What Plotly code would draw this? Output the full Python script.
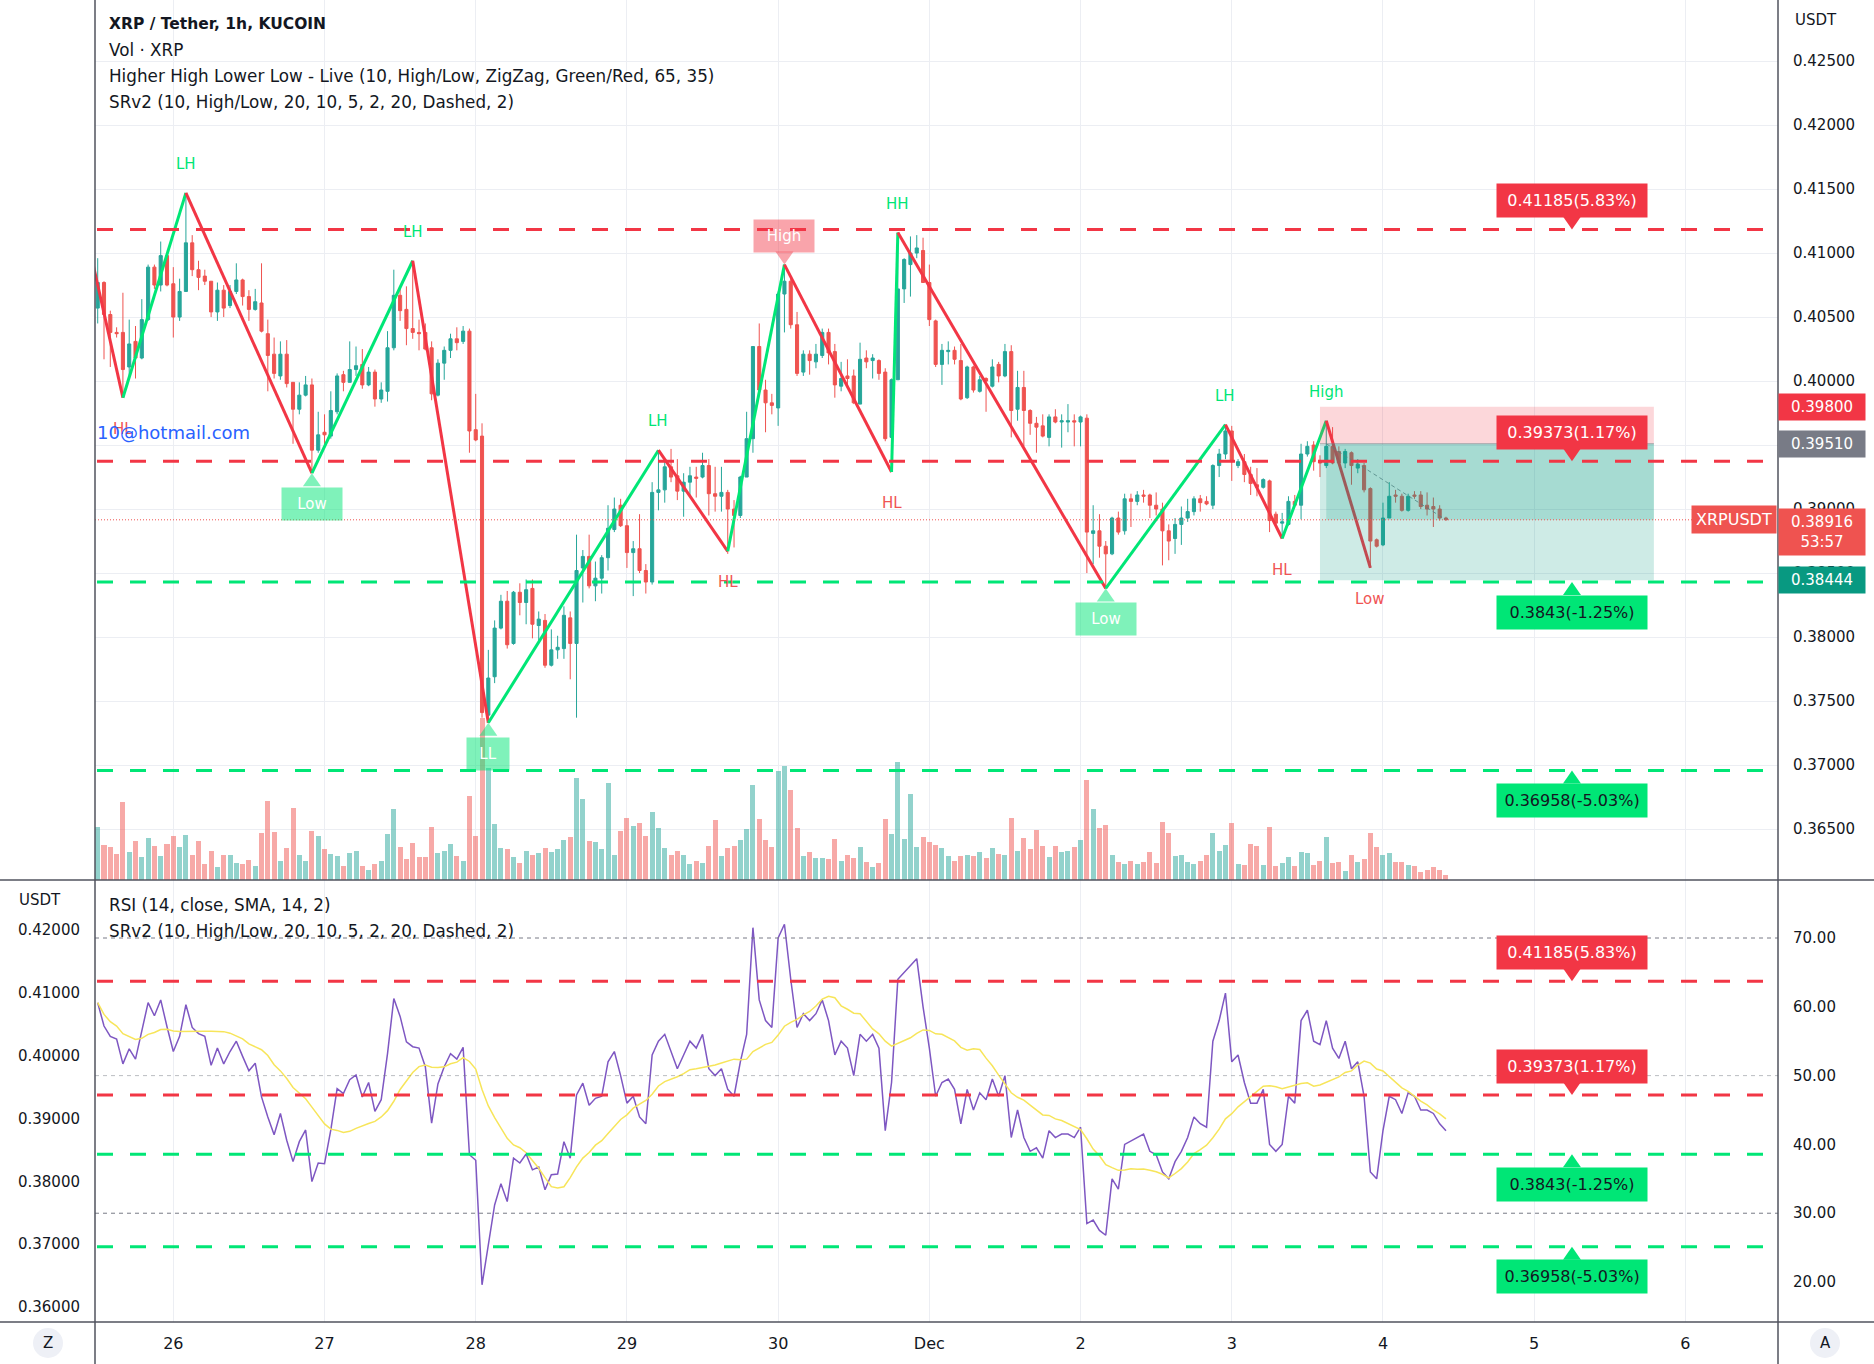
import pandas as pd
import plotly.graph_objects as go

# ---------------- DATA ----------------
# hourly candles, XRP/USDT (KUCOIN), first candle 2022-11-25 12:00
open_ = [
    0.4057, 0.4077, 0.4052, 0.4038, 0.4038, 0.4011, 0.4031, 0.4018, 0.4048, 0.4089,
    0.4075, 0.4098, 0.4076, 0.4050, 0.4070, 0.4108, 0.4087, 0.4082, 0.4078, 0.4054,
    0.4071, 0.4059, 0.4070, 0.4079, 0.4066, 0.4056, 0.4061, 0.4037, 0.4021, 0.4004,
    0.4021, 0.3999, 0.3978, 0.3989, 0.3997, 0.3946, 0.3960, 0.3957, 0.3976, 0.4005,
    0.3999, 0.4009, 0.4013, 0.3997, 0.4007, 0.3986, 0.3992, 0.4026, 0.4067, 0.4056,
    0.4041, 0.4038, 0.4038, 0.4026, 0.3989, 0.4014, 0.4024, 0.4033, 0.4031, 0.4039,
    0.3962, 0.3957, 0.3739, 0.3769, 0.3807, 0.3828, 0.3795, 0.3835, 0.3827, 0.3838,
    0.3809, 0.3813, 0.3778, 0.3790, 0.3791, 0.3815, 0.3795, 0.3854, 0.3863, 0.3840,
    0.3846, 0.3862, 0.3884, 0.3903, 0.3887, 0.3866, 0.3869, 0.3852, 0.3843, 0.3913,
    0.3915, 0.3933, 0.3926, 0.3914, 0.3921, 0.3925, 0.3925, 0.3934, 0.3912, 0.3910,
    0.3913, 0.3900, 0.3895, 0.3925, 0.3955, 0.4027, 0.3993, 0.3983, 0.3979, 0.4068,
    0.4078, 0.4044, 0.4007, 0.4021, 0.4015, 0.4020, 0.4038, 0.4023, 0.3996, 0.4004,
    0.4004, 0.3982, 0.4018, 0.4016, 0.4016, 0.4007, 0.3956, 0.4001, 0.4072, 0.4091,
    0.4100, 0.4102, 0.4077, 0.4047, 0.4013, 0.4023, 0.4024, 0.4016, 0.3987, 0.4011,
    0.3992, 0.4002, 0.3996, 0.4013, 0.4004, 0.4023, 0.3978, 0.3995, 0.3977, 0.3967,
    0.3965, 0.3956, 0.3972, 0.3968, 0.3968, 0.3969, 0.3968, 0.3971, 0.3881, 0.3883,
    0.3871, 0.3865, 0.3893, 0.3883, 0.3908, 0.3906, 0.3911, 0.3911, 0.3903, 0.3900,
    0.3883, 0.3877, 0.3888, 0.3893, 0.3898, 0.3908, 0.3906, 0.3903, 0.3934, 0.3943,
    0.3961, 0.3934, 0.3937, 0.3927, 0.3919, 0.3917, 0.3922, 0.3896, 0.3889, 0.3888,
    0.3906, 0.3903, 0.3943, 0.3950, 0.3937, 0.3934, 0.3949, 0.3945, 0.3936, 0.3944,
    0.3932, 0.3934, 0.3916, 0.3876, 0.3872, 0.3893, 0.3911, 0.3910, 0.3899, 0.3911,
    0.3911, 0.3903, 0.3902, 0.3900, 0.3893,
]
high = [
    0.4096, 0.4078, 0.4055, 0.4042, 0.4069, 0.4048, 0.4043, 0.4064, 0.4091, 0.4091,
    0.4109, 0.4100, 0.4089, 0.4080, 0.4147, 0.4114, 0.4094, 0.4087, 0.4078, 0.4077,
    0.4075, 0.4075, 0.4092, 0.4080, 0.4071, 0.4072, 0.4092, 0.4048, 0.4034, 0.4031,
    0.4032, 0.3999, 0.3999, 0.4004, 0.4002, 0.3976, 0.3974, 0.3992, 0.4006, 0.4008,
    0.4031, 0.4027, 0.4025, 0.4011, 0.4009, 0.3999, 0.4039, 0.4087, 0.4072, 0.4074,
    0.4094, 0.4048, 0.4045, 0.4031, 0.4017, 0.4027, 0.4037, 0.4042, 0.4043, 0.4041,
    0.3990, 0.3967, 0.3790, 0.3813, 0.3833, 0.3836, 0.3836, 0.3842, 0.3845, 0.3845,
    0.3820, 0.3818, 0.3806, 0.3801, 0.3824, 0.3820, 0.3880, 0.3868, 0.3880, 0.3859,
    0.3864, 0.3903, 0.3909, 0.3908, 0.3892, 0.3875, 0.3896, 0.3857, 0.3921, 0.3946,
    0.3939, 0.3947, 0.3939, 0.3928, 0.3933, 0.3933, 0.3944, 0.3939, 0.3933, 0.3933,
    0.3915, 0.3907, 0.3926, 0.3976, 0.4027, 0.4045, 0.4001, 0.3990, 0.4070, 0.4091,
    0.4080, 0.4054, 0.4024, 0.4024, 0.4029, 0.4041, 0.4041, 0.4029, 0.4015, 0.4017,
    0.4009, 0.4030, 0.4024, 0.4021, 0.4017, 0.4010, 0.4002, 0.4116, 0.4096, 0.4113,
    0.4114, 0.4112, 0.4091, 0.4048, 0.4029, 0.4031, 0.4027, 0.4029, 0.4012, 0.4012,
    0.4004, 0.4003, 0.4017, 0.4015, 0.4029, 0.4028, 0.4008, 0.4008, 0.3978, 0.3972,
    0.3974, 0.3974, 0.3978, 0.3974, 0.3982, 0.3974, 0.3973, 0.3974, 0.3903, 0.3896,
    0.3875, 0.3894, 0.3898, 0.3912, 0.3912, 0.3914, 0.3915, 0.3912, 0.3913, 0.3905,
    0.3888, 0.3893, 0.3902, 0.3908, 0.3910, 0.3911, 0.3910, 0.3935, 0.3947, 0.3966,
    0.3965, 0.3939, 0.3943, 0.3933, 0.3932, 0.3924, 0.3923, 0.3898, 0.3897, 0.3910,
    0.3911, 0.3951, 0.3953, 0.3953, 0.3942, 0.3969, 0.3964, 0.3949, 0.3947, 0.3945,
    0.3939, 0.3936, 0.3917, 0.3877, 0.3905, 0.3921, 0.3915, 0.3912, 0.3912, 0.3914,
    0.3914, 0.3913, 0.3909, 0.3903, 0.3894,
]
low = [
    0.4045, 0.4017, 0.4011, 0.4034, 0.3987, 0.4004, 0.4002, 0.4017, 0.4047, 0.4072,
    0.4070, 0.4074, 0.4034, 0.4047, 0.4070, 0.4082, 0.4071, 0.4075, 0.4050, 0.4047,
    0.4050, 0.4057, 0.4068, 0.4059, 0.4047, 0.4055, 0.4038, 0.3992, 0.4002, 0.4001,
    0.3995, 0.3951, 0.3974, 0.3988, 0.3928, 0.3944, 0.3949, 0.3955, 0.3974, 0.3992,
    0.3999, 0.4004, 0.3994, 0.3996, 0.3980, 0.3983, 0.3984, 0.4024, 0.4047, 0.4028,
    0.4033, 0.4024, 0.4024, 0.3985, 0.3988, 0.4001, 0.4018, 0.4024, 0.4029, 0.3944,
    0.3953, 0.3737, 0.3733, 0.3764, 0.3806, 0.3791, 0.3794, 0.3817, 0.3810, 0.3799,
    0.3797, 0.3776, 0.3777, 0.3783, 0.3783, 0.3767, 0.3737, 0.3827, 0.3838, 0.3828,
    0.3834, 0.3852, 0.3882, 0.3886, 0.3854, 0.3832, 0.3850, 0.3834, 0.3841, 0.3899,
    0.3905, 0.3921, 0.3907, 0.3894, 0.3911, 0.3909, 0.3924, 0.3895, 0.3898, 0.3898,
    0.3865, 0.3870, 0.3893, 0.3925, 0.3944, 0.3992, 0.3960, 0.3974, 0.3965, 0.4038,
    0.4041, 0.4004, 0.4004, 0.4005, 0.4010, 0.4018, 0.4013, 0.3987, 0.3992, 0.3995,
    0.3982, 0.3982, 0.4010, 0.4002, 0.4001, 0.3953, 0.3929, 0.4001, 0.4061, 0.4066,
    0.4096, 0.4077, 0.4043, 0.4011, 0.3997, 0.4013, 0.4013, 0.3985, 0.3986, 0.3991,
    0.3991, 0.3976, 0.3995, 0.3999, 0.4003, 0.3956, 0.3969, 0.3949, 0.3958, 0.3944,
    0.3956, 0.3949, 0.3967, 0.3948, 0.3960, 0.3949, 0.3949, 0.3850, 0.3857, 0.3862,
    0.3838, 0.3864, 0.3880, 0.3880, 0.3886, 0.3903, 0.3905, 0.3893, 0.3895, 0.3856,
    0.3860, 0.3865, 0.3872, 0.3890, 0.3895, 0.3898, 0.3903, 0.3900, 0.3925, 0.3939,
    0.3922, 0.3932, 0.3921, 0.3911, 0.3910, 0.3916, 0.3882, 0.3886, 0.3877, 0.3887,
    0.3902, 0.3892, 0.3941, 0.3930, 0.3925, 0.3932, 0.3935, 0.3935, 0.3932, 0.3919,
    0.3928, 0.3913, 0.3854, 0.3870, 0.3871, 0.3893, 0.3905, 0.3898, 0.3898, 0.3908,
    0.3900, 0.3895, 0.3886, 0.3891, 0.3891,
]
close = [
    0.4077, 0.4052, 0.4038, 0.4037, 0.4009, 0.4029, 0.4018, 0.4048, 0.4089, 0.4075,
    0.4098, 0.4075, 0.4050, 0.4070, 0.4108, 0.4087, 0.4081, 0.4078, 0.4054, 0.4071,
    0.4057, 0.4070, 0.4079, 0.4066, 0.4056, 0.4062, 0.4039, 0.4020, 0.4006, 0.4021,
    0.3998, 0.3978, 0.3989, 0.3997, 0.3946, 0.3958, 0.3958, 0.3977, 0.4004, 0.3999,
    0.4009, 0.4012, 0.3997, 0.4007, 0.3986, 0.3993, 0.4026, 0.4067, 0.4055, 0.4041,
    0.4038, 0.4037, 0.4025, 0.3990, 0.4014, 0.4024, 0.4033, 0.4030, 0.4039, 0.3961,
    0.3954, 0.3741, 0.3768, 0.3807, 0.3828, 0.3794, 0.3835, 0.3827, 0.3837, 0.3810,
    0.3814, 0.3778, 0.3790, 0.3792, 0.3817, 0.3795, 0.3852, 0.3863, 0.3840, 0.3846,
    0.3862, 0.3885, 0.3900, 0.3887, 0.3866, 0.3869, 0.3852, 0.3843, 0.3913, 0.3915,
    0.3933, 0.3925, 0.3914, 0.3921, 0.3926, 0.3924, 0.3934, 0.3912, 0.3910, 0.3913,
    0.3900, 0.3895, 0.3925, 0.3955, 0.4027, 0.3993, 0.3983, 0.3981, 0.4068, 0.4078,
    0.4044, 0.4006, 0.4021, 0.4016, 0.4021, 0.4038, 0.4022, 0.3997, 0.4002, 0.4002,
    0.3983, 0.4017, 0.4015, 0.4018, 0.4006, 0.3955, 0.4001, 0.4072, 0.4095, 0.4100,
    0.4104, 0.4077, 0.4048, 0.4013, 0.4024, 0.4024, 0.4017, 0.3986, 0.4011, 0.3993,
    0.4001, 0.4000, 0.4011, 0.4004, 0.4023, 0.3977, 0.3995, 0.3977, 0.3967, 0.3964,
    0.3957, 0.3972, 0.3968, 0.3969, 0.3969, 0.3968, 0.3972, 0.3882, 0.3883, 0.3871,
    0.3865, 0.3893, 0.3882, 0.3908, 0.3906, 0.3911, 0.3910, 0.3903, 0.3900, 0.3883,
    0.3875, 0.3888, 0.3893, 0.3898, 0.3908, 0.3905, 0.3904, 0.3934, 0.3943, 0.3961,
    0.3937, 0.3937, 0.3927, 0.3920, 0.3917, 0.3923, 0.3891, 0.3889, 0.3890, 0.3906,
    0.3903, 0.3943, 0.3949, 0.3937, 0.3936, 0.3949, 0.3936, 0.3936, 0.3945, 0.3934,
    0.3935, 0.3915, 0.3875, 0.3871, 0.3893, 0.3910, 0.3910, 0.3899, 0.3910, 0.3910,
    0.3902, 0.3900, 0.3900, 0.3893, 0.38916,
]
volume = [
    118, 78, 73, 58, 173, 63, 86, 50, 93, 75,
    53, 80, 98, 73, 100, 56, 86, 36, 65, 28,
    56, 56, 38, 36, 44, 30, 103, 175, 106, 43,
    71, 160, 56, 43, 108, 98, 68, 58, 53, 31,
    60, 64, 30, 23, 36, 43, 102, 158, 73, 46,
    81, 50, 50, 118, 60, 64, 80, 53, 43, 185,
    98, 358, 248, 123, 71, 68, 51, 38, 65, 56,
    60, 71, 63, 68, 88, 95, 225, 178, 86, 83,
    68, 215, 55, 108, 138, 120, 125, 98, 151, 115,
    71, 55, 65, 55, 35, 41, 38, 75, 132, 53,
    71, 75, 88, 113, 210, 135, 88, 73, 240, 253,
    198, 116, 53, 63, 48, 48, 46, 91, 43, 56,
    48, 73, 40, 28, 38, 135, 102, 260, 91, 190,
    73, 96, 83, 78, 71, 53, 43, 53, 55, 53,
    62, 48, 71, 58, 56, 138, 64, 93, 68, 111,
    76, 50, 75, 63, 65, 73, 88, 220, 156, 116,
    121, 55, 40, 35, 41, 35, 40, 63, 38, 128,
    103, 53, 55, 40, 35, 43, 56, 103, 65, 78,
    125, 35, 33, 80, 76, 33, 118, 30, 38, 51,
    31, 62, 60, 33, 43, 96, 38, 40, 21, 56,
    40, 46, 103, 73, 55, 60, 40, 40, 33, 30,
    18, 22, 28, 23, 11,
]
rsi = [
    60.6, 57.2, 55.7, 55.3, 51.7, 53.9, 52.4, 56.6, 60.6, 58.7,
    61.0, 57.1, 53.5, 55.7, 60.3, 57.0, 56.1, 55.7, 51.5, 54.0,
    51.7, 53.5, 55.0, 52.8, 50.7, 51.8, 46.9, 44.0, 41.4, 44.5,
    40.6, 37.5, 40.4, 42.1, 34.6, 37.3, 37.2, 42.1, 48.1, 47.4,
    49.4, 50.1, 46.9, 49.0, 44.8, 46.5, 53.2, 61.2, 58.6, 54.9,
    54.2, 54.0, 51.3, 43.1, 48.8, 51.3, 53.2, 52.4, 54.1, 38.5,
    37.7, 19.6, 25.1, 31.2, 34.3, 31.7, 38.0, 37.3, 38.6, 36.3,
    36.7, 33.4, 35.6, 35.7, 40.4, 38.0, 47.2, 48.9, 45.7, 46.7,
    47.0, 52.0, 53.5, 50.0, 46.0, 47.0, 44.0, 43.0, 53.0, 55.0,
    56.0, 53.5, 51.0, 53.0, 55.0, 54.0, 56.0, 51.0, 50.0, 51.0,
    48.0, 47.0, 52.0, 56.0, 71.5, 61.0, 58.0, 57.0, 70.0, 72.0,
    64.0, 57.0, 59.0, 58.0, 59.0, 61.0, 58.0, 53.0, 55.0, 54.0,
    50.0, 56.0, 55.0, 56.0, 54.0, 42.0, 49.0, 64.0, 65.0, 66.0,
    67.0, 60.0, 54.0, 47.0, 49.0, 49.5, 48.0, 43.0, 48.0, 45.0,
    47.5, 46.5, 49.5, 47.0, 50.0, 41.0, 45.0, 41.0, 39.0, 39.5,
    38.0, 42.0, 41.0, 41.5, 41.5, 41.0, 42.5, 28.5, 29.0, 27.5,
    26.8, 35.0, 33.5, 40.0, 40.5, 41.0, 41.5, 39.0, 38.5, 36.0,
    35.0, 37.5, 39.0, 41.0, 44.0, 43.0, 42.5, 55.0, 58.0, 62.0,
    52.0, 53.0, 49.0, 46.0, 46.0, 48.0, 40.0, 39.0, 40.0, 47.0,
    46.0, 58.0, 59.5, 55.0, 54.5, 58.0, 54.0, 52.5, 55.0, 51.0,
    52.0, 47.0, 36.0, 35.0, 42.0, 47.0, 46.5, 44.5, 47.5, 47.0,
    45.0, 45.0, 44.5, 43.0, 42.0,
]

# zigzag pivots (hours from 2022-11-26 00:00)
pivot_idx = [-13, -8, 2, 22, 38, 50, 77, 88, 97, 114, 115, 148, 167, 176, 183, 190]
pivot_price = [0.4097, 0.3987, 0.4147, 0.3928, 0.4094, 0.3733, 0.3946, 0.3867,
               0.4091, 0.3929, 0.4116, 0.3838, 0.3966, 0.3877, 0.3969, 0.3854]
pivot_label = ["", "HL", "LH", "Low", "LH", "LL", "LH", "HL",
               "High", "HL", "HH", "Low", "LH", "HL", "High", "Low"]
pivot_style = ["", "text", "text", "box", "text", "box", "text", "text",
               "box", "text", "text", "box", "text", "text", "text", "text"]

# support / resistance levels
sr_levels = [0.41185, 0.39373, 0.3843, 0.36958]
sr_labels = ["0.41185(5.83%)", "0.39373(1.17%)", "0.3843(-1.25%)", "0.36958(-5.03%)"]

# position tool
pos_stop, pos_entry, pos_target, last_price = 0.39800, 0.39510, 0.38444, 0.38916
pos_start_h, pos_end_h = 182, 235

price_ticks = [0.365, 0.370, 0.375, 0.380, 0.385, 0.390, 0.395, 0.400,
               0.405, 0.410, 0.415, 0.420, 0.425]
rsi_price_ticks = [0.36, 0.37, 0.38, 0.39, 0.40, 0.41, 0.42]
rsi_ticks = [20, 30, 40, 50, 60, 70]
tick_labels = ["26", "27", "28", "29", "30", "Dec", "2", "3", "4", "5", "6"]
tick_dates = pd.date_range("2022-11-26", periods=len(tick_labels), freq="D")

# ---------------- FIGURE ----------------
W, H = 1874, 1364
def px(x): return x / W
def py(y): return 1 - y / H

T0 = pd.Timestamp("2022-11-26")
def t_at(h): return T0 + pd.Timedelta(hours=h)

times = pd.date_range("2022-11-25 12:00", periods=len(close), freq="h")
rsi_sma = pd.Series(rsi).rolling(14, min_periods=1).mean()

UP, DOWN = "#26a69a", "#ef5350"
GREEN, RED = "#00e676", "#f23645"
TXT = "#131722"
GRID = "#eceef3"
FONT = "DejaVu Sans"
BORDER = "#50535e"

fig = go.Figure()

vol_colors = ["rgba(38,166,154,0.5)" if c >= o else "rgba(239,83,80,0.5)"
              for o, c in zip(open_, close)]
fig.add_trace(go.Bar(x=times, y=volume, marker=dict(color=vol_colors, line=dict(width=0)),
                     width=0.8 * 3600 * 1000, xaxis="x", yaxis="y", hoverinfo="skip"))
fig.add_trace(go.Candlestick(
    x=times, open=open_, high=high, low=low, close=close, xaxis="x", yaxis="y2",
    increasing=dict(line=dict(color=UP, width=1), fillcolor=UP),
    decreasing=dict(line=dict(color=DOWN, width=1), fillcolor=DOWN),
    whiskerwidth=0, hoverinfo="skip"))

for i in range(len(pivot_idx) - 1):
    p0, p1 = pivot_price[i], pivot_price[i + 1]
    fig.add_trace(go.Scatter(
        x=[t_at(pivot_idx[i]), t_at(pivot_idx[i + 1])], y=[p0, p1], mode="lines",
        line=dict(color=GREEN if p1 > p0 else RED, width=3),
        xaxis="x", yaxis="y2", hoverinfo="skip"))

fig.add_trace(go.Scatter(x=[t_at(pivot_idx[-2]), times[-1]], y=[pos_entry, last_price],
                         mode="lines", line=dict(color="rgba(120,123,134,0.8)", width=1, dash="4px,3px"),
                         xaxis="x", yaxis="y2", hoverinfo="skip"))

fig.add_trace(go.Scatter(x=times, y=rsi, mode="lines", line=dict(color="#7e57c2", width=1.5),
                         xaxis="x2", yaxis="y3", hoverinfo="skip"))
fig.add_trace(go.Scatter(x=times, y=rsi_sma, mode="lines", line=dict(color="#f7e55a", width=1.5),
                         xaxis="x2", yaxis="y3", hoverinfo="skip"))

shapes = []
annotations = []

# RSI band and levels
shapes.append(dict(type="rect", xref="paper", yref="y3", x0=px(95), x1=px(1778), y0=30, y1=70,
                   fillcolor="rgba(126,87,194,0.1)", line=dict(width=0), layer="below"))
for lv, col in [(70, "#787b86"), (50, "rgba(120,123,134,0.5)"), (30, "#787b86")]:
    shapes.append(dict(type="line", xref="paper", yref="y3", x0=px(95), x1=px(1778), y0=lv, y1=lv,
                       line=dict(color=col, width=1, dash="4px,4px")))

# position tool rectangles
shapes.append(dict(type="rect", xref="x", yref="y2", x0=t_at(pos_start_h), x1=t_at(pos_end_h),
                   y0=pos_entry, y1=pos_stop, fillcolor="rgba(242,54,69,0.2)", line=dict(width=0), layer="above"))
shapes.append(dict(type="rect", xref="x", yref="y2", x0=t_at(pos_start_h), x1=t_at(pos_end_h),
                   y0=pos_target, y1=pos_entry, fillcolor="rgba(8,153,129,0.2)", line=dict(width=0), layer="above"))
shapes.append(dict(type="rect", xref="x", yref="y2", x0=t_at(pos_start_h + 1), x1=t_at(pos_end_h),
                   y0=last_price, y1=pos_entry, fillcolor="rgba(8,153,129,0.2)", line=dict(width=0), layer="above"))
shapes.append(dict(type="line", xref="x", yref="y2", x0=t_at(pos_start_h), x1=t_at(pos_end_h),
                   y0=pos_entry, y1=pos_entry, line=dict(color="rgba(120,123,134,0.6)", width=1), layer="above"))

# current price dotted line
shapes.append(dict(type="line", xref="paper", yref="y2", x0=px(95), x1=px(1778), y0=last_price, y1=last_price,
                   line=dict(color=DOWN, width=1, dash="1px,2px")))

# S/R lines and labels in both panes
label_t = t_at(222)
for lv, lab in zip(sr_levels, sr_labels):
    res = lv > pos_entry - 0.002
    col = RED if res else GREEN
    fcol = "white" if res else TXT
    for yr in ("y2", "y4"):
        shapes.append(dict(type="line", xref="paper", yref=yr, x0=px(97), x1=px(1765), y0=lv, y1=lv,
                           line=dict(color=col, width=3, dash="16px,17px"), layer="above"))
        shapes.append(dict(type="path", xref="x", yref=yr, xsizemode="pixel", ysizemode="pixel",
                           xanchor=label_t, yanchor=lv,
                           path=("M 0 0 L -9 13 L 9 13 Z" if res else "M 0 0 L -9 -13 L 9 -13 Z"),
                           fillcolor=col, line=dict(width=0), layer="above"))
        annotations.append(dict(x=label_t, y=lv, xref="x", yref=yr, text=lab, showarrow=False,
                                font=dict(color=fcol, size=16, family=FONT), bgcolor=col,
                                width=142, height=25, borderpad=4, yshift=(29 if res else -30)))

# pivot labels
for i in range(1, len(pivot_idx)):
    lab = pivot_label[i]
    t = t_at(pivot_idx[i])
    p = pivot_price[i]
    peak = p > pivot_price[i - 1]
    if pivot_style[i] == "text":
        annotations.append(dict(x=t, y=p, xref="x", yref="y2", text=lab, showarrow=False,
                                font=dict(color=(GREEN if peak else "#f05454"), size=15, family=FONT),
                                yshift=(29 if peak else -31)))
    else:
        bcol = "rgba(242,54,69,0.45)" if peak else "rgba(0,230,118,0.5)"
        shapes.append(dict(type="path", xref="x", yref="y2", xsizemode="pixel", ysizemode="pixel",
                           xanchor=t, yanchor=p,
                           path=("M 0 0 L -9 13 L 9 13 Z" if peak else "M 0 0 L -9 -13 L 9 -13 Z"),
                           fillcolor=bcol, line=dict(width=0), layer="above"))
        annotations.append(dict(x=t, y=p, xref="x", yref="y2", text=lab, showarrow=False,
                                font=dict(color="white", size=15, family=FONT), bgcolor=bcol,
                                width=(34 if len(lab) == 2 else 52), height=24, borderpad=4,
                                yshift=(29 if peak else -31)))

annotations.append(dict(x=px(95), y=py(433), xref="paper", yref="paper", xanchor="left", yanchor="middle",
                        text="10@hotmail.com", showarrow=False,
                        font=dict(color="#2962ff", size=18, family="DejaVu Sans")))

# legend texts
legend_lines = [("XRP / Tether, 1h, KUCOIN", 24, True),
                ("Vol · XRP", 50, False),
                ("Higher High Lower Low - Live (10, High/Low, ZigZag, Green/Red, 65, 35)", 76, False),
                ("SRv2 (10, High/Low, 20, 10, 5, 2, 20, Dashed, 2)", 102, False),
                ("RSI (14, close, SMA, 14, 2)", 905, False),
                ("SRv2 (10, High/Low, 20, 10, 5, 2, 20, Dashed, 2)", 931, False)]
for txt, yy, bold in legend_lines:
    annotations.append(dict(x=px(107), y=py(yy), xref="paper", yref="paper", xanchor="left", yanchor="middle",
                            text=(f"<b>{txt}</b>" if bold else txt), showarrow=False,
                            font=dict(color=TXT, size=(15.5 if bold else 16.8), family=FONT)))

annotations.append(dict(x=px(1793), y=py(20), xref="paper", yref="paper", xanchor="left", yanchor="middle",
                        text="USDT", showarrow=False, font=dict(color=TXT, size=15, family=FONT)))
annotations.append(dict(x=px(17), y=py(900), xref="paper", yref="paper", xanchor="left", yanchor="middle",
                        text="USDT", showarrow=False, font=dict(color=TXT, size=15, family=FONT)))

# right axis price boxes
for val, txt, col, hgt in [(pos_stop, "0.39800", "#f23645", 20), (pos_entry, "0.39510", "#787b86", 20),
                           (last_price, "0.38916<br>53:57", "#ef5350", 40), (pos_target, "0.38444", "#089981", 20)]:
    annotations.append(dict(x=px(1778), y=val, xref="paper", yref="y2", xanchor="left", yanchor="middle",
                            text=txt, showarrow=False, bgcolor=col, width=80, height=hgt, borderpad=3,
                            yshift=(-12 if hgt > 30 else 0),
                            font=dict(color="white", size=15, family=FONT)))
annotations.append(dict(x=px(1777), y=last_price, xref="paper", yref="y2", xanchor="right", yanchor="middle",
                        text="XRPUSDT", showarrow=False, bgcolor="#ef5350", borderpad=4,
                        font=dict(color="white", size=16, family=FONT)))

# panel separators
for (x0, y0, x1, y1) in [(0, 880, W, 880), (0, 1322, W, 1322), (95, 0, 95, H), (1778, 0, 1778, H)]:
    shapes.append(dict(type="line", xref="paper", yref="paper", x0=px(x0), x1=px(x1), y0=py(y0), y1=py(y1),
                       line=dict(color=BORDER, width=1.5), layer="above"))

# Z / A buttons
for cx, letter in [(48, "Z"), (1825, "A")]:
    shapes.append(dict(type="circle", xref="paper", yref="paper", x0=px(cx - 15), x1=px(cx + 15),
                       y0=py(1343 + 15), y1=py(1343 - 15), fillcolor="#eef0f6", line=dict(width=0)))
    annotations.append(dict(x=px(cx), y=py(1343), xref="paper", yref="paper", xanchor="center",
                            yanchor="middle", text=letter, showarrow=False,
                            font=dict(color=TXT, size=15, family=FONT)))

x_left = t_at(-12.43)
x_right = t_at(254.7)

axis_font = dict(color=TXT, size=15, family=FONT)
fig.update_layout(
    width=W, height=H, margin=dict(l=0, r=0, t=0, b=0),
    paper_bgcolor="white", plot_bgcolor="white", showlegend=False, hovermode=False,
    shapes=shapes, annotations=annotations, bargap=0,
    xaxis=dict(domain=[px(95), px(1778)], anchor="y", range=[x_left, x_right], tickvals=tick_dates,
               showticklabels=False, showgrid=True, gridcolor=GRID, zeroline=False,
               rangeslider=dict(visible=False), fixedrange=True),
    yaxis=dict(domain=[py(880), 1], range=[0, 1945], visible=False, fixedrange=True),
    yaxis2=dict(overlaying="y", side="right", anchor="x", range=[0.36102, 0.42977],
                tickvals=price_ticks, ticktext=[f"{v:.5f}" for v in price_ticks],
                showgrid=True, gridcolor=GRID, zeroline=False, tickfont=axis_font,
                ticks="", ticklabelstandoff=14, fixedrange=True),
    xaxis2=dict(domain=[px(95), px(1778)], anchor="y3", matches="x", range=[x_left, x_right],
                tickvals=tick_dates, ticktext=tick_labels, showgrid=True, gridcolor=GRID, zeroline=False,
                tickfont=dict(color=TXT, size=16, family=FONT), ticks="", ticklabelstandoff=10,
                fixedrange=True),
    yaxis3=dict(domain=[py(1322), py(880)], anchor="x2", side="right", range=[14.19, 78.43],
                tickvals=rsi_ticks, ticktext=[f"{v:.2f}" for v in rsi_ticks], showgrid=False,
                zeroline=False, tickfont=axis_font, ticks="", ticklabelstandoff=14, fixedrange=True),
    yaxis4=dict(overlaying="y3", side="left", anchor="x2", range=[0.35761, 0.42796],
                tickvals=rsi_price_ticks, ticktext=[f"{v:.5f}" for v in rsi_price_ticks],
                showgrid=True, gridcolor=GRID, zeroline=False, tickfont=axis_font, ticks="",
                ticklabelstandoff=14, fixedrange=True),
)

fig.write_html("out.html", include_plotlyjs=True, config={"displayModeBar": False})
